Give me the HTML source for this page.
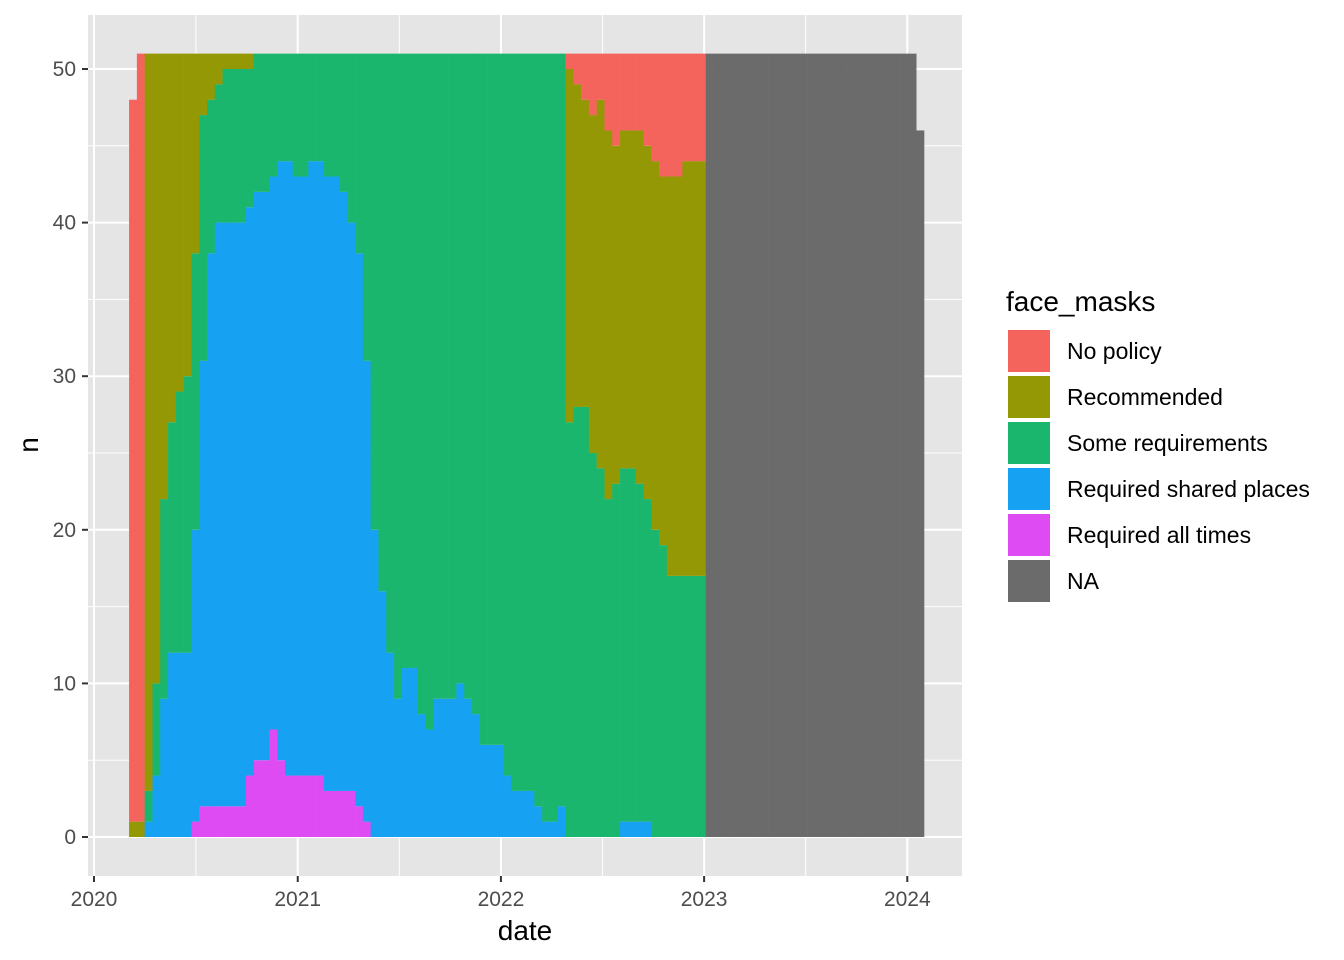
<!DOCTYPE html>
<html><head><meta charset="utf-8"><style>
html,body{margin:0;padding:0;background:#fff;}
svg{display:block;font-family:"Liberation Sans",Arial,sans-serif;}
</style></head><body>
<svg id="chart" width="1344" height="960" viewBox="0 0 1344 960">
<rect x="88" y="15" width="874" height="861" fill="#E5E5E5"/>
<g id="grid"></g>
<g id="bars"></g>
<g id="axes"></g>
<text x="525" y="940" font-size="28" text-anchor="middle" fill="#000">date</text>
<text transform="translate(38,445) rotate(-90)" font-size="28" text-anchor="middle" fill="#000">n</text>
<g id="legend">
<text x="1006" y="311" font-size="28" fill="#000">face_masks</text>
</g>
</svg>
<script>
const startDay = 63; // days since 2020-01-01 of first bar
const periodDays = 14;
const seriesNames = ["NA","Required all times","Required shared places","Some requirements","Recommended","No policy"];
const pink = [0,0,0,0,0,0,0,0,1,2,2,2,2,2,2,4,5,5,7,5,4,4,4,4,4,3,3,3,3,2,1,0,0,0,0,0,0,0,0,0,0,0,0,0,0,0,0,0,0,0,0,0,0,0,0,0,0,0,0,0,0,0,0,0,0,0,0,0,0,0,0,0,0,0,0,0,0,0,0,0,0,0,0,0,0,0,0,0,0,0,0,0,0,0,0,0,0,0,0,0,0,0];
const blue = [0,0,1,4,9,12,12,12,19,29,36,38,38,38,38,37,37,37,36,39,40,39,39,40,40,40,40,39,37,36,30,20,16,12,9,11,11,8,7,9,9,9,10,9,8,6,6,6,4,3,3,3,2,1,1,2,0,0,0,0,0,0,0,1,1,1,1,0,0,0,0,0,0,0,0,0,0,0,0,0,0,0,0,0,0,0,0,0,0,0,0,0,0,0,0,0,0,0,0,0,0,0];
const green = [0,0,2,6,13,15,17,18,18,16,10,9,10,10,10,9,9,9,8,7,7,8,8,7,7,8,8,9,11,13,20,31,35,39,42,40,40,43,44,42,42,42,41,42,43,45,45,45,47,48,48,48,49,50,50,49,27,28,28,25,24,22,23,23,23,22,21,20,19,17,17,17,17,17,0,0,0,0,0,0,0,0,0,0,0,0,0,0,0,0,0,0,0,0,0,0,0,0,0,0,0,0];
const olive = [1,1,48,41,29,24,22,21,13,4,3,2,1,1,1,1,0,0,0,0,0,0,0,0,0,0,0,0,0,0,0,0,0,0,0,0,0,0,0,0,0,0,0,0,0,0,0,0,0,0,0,0,0,0,0,0,23,21,20,22,24,24,22,22,22,23,23,24,24,26,26,27,27,27,0,0,0,0,0,0,0,0,0,0,0,0,0,0,0,0,0,0,0,0,0,0,0,0,0,0,0,0];
const red = [47,50,0,0,0,0,0,0,0,0,0,0,0,0,0,0,0,0,0,0,0,0,0,0,0,0,0,0,0,0,0,0,0,0,0,0,0,0,0,0,0,0,0,0,0,0,0,0,0,0,0,0,0,0,0,0,1,2,3,4,3,5,6,5,5,5,6,7,8,8,8,7,7,7,0,0,0,0,0,0,0,0,0,0,0,0,0,0,0,0,0,0,0,0,0,0,0,0,0,0,0,0];
const naVals = [0,0,0,0,0,0,0,0,0,0,0,0,0,0,0,0,0,0,0,0,0,0,0,0,0,0,0,0,0,0,0,0,0,0,0,0,0,0,0,0,0,0,0,0,0,0,0,0,0,0,0,0,0,0,0,0,0,0,0,0,0,0,0,0,0,0,0,0,0,0,0,0,0,0,51,51,51,51,51,51,51,51,51,51,51,51,51,51,51,51,51,51,51,51,51,51,51,51,51,51,51,46];
const yTicks = [0,10,20,30,40,50];
const xTickYears = [2020,2021,2022,2023,2024];

const NS = "http://www.w3.org/2000/svg";
function xScale(day){ return 94 + day * (813.3/1461); }
function yScale(v){ return 837 - v * 15.36; }
function yearDay(yr){ const d0=Date.UTC(2020,0,1); return (Date.UTC(yr,0,1)-d0)/86400000; }
function mk(tag, attrs, parent){ const e=document.createElementNS(NS,tag); for(const k in attrs) e.setAttribute(k,attrs[k]); parent.appendChild(e); return e; }

const grid=document.getElementById('grid');
for(let v=5; v<=50; v+=10){ const l=mk('line',{x1:88,x2:962,y1:yScale(v),y2:yScale(v),stroke:'#fff','stroke-width':1},grid);

 }
for(let i=0;i<xTickYears.length-1;i++){ const xm=xScale((yearDay(xTickYears[i])+yearDay(xTickYears[i+1]))/2);
const l=mk('line',{x1:xm,x2:xm,y1:15,y2:876,stroke:'#fff','stroke-width':1},grid);

 }
yTicks.forEach(v=>{ const l=mk('line',{x1:88,x2:962,y1:yScale(v),y2:yScale(v),stroke:'#fff','stroke-width':2},grid);

 });
xTickYears.forEach(yr=>{ const x=xScale(yearDay(yr)); const l=mk('line',{x1:x,x2:x,y1:15,y2:876,stroke:'#fff','stroke-width':2},grid);

 });

const colors={NA:'#6B6B6B',pink:'#DF4BF2',blue:'#16A1F2',green:'#1BB66E',olive:'#949804',red:'#F4645D'};
const stack=[['na',naVals,colors.NA],['pink',pink,colors.pink],['blue',blue,colors.blue],['green',green,colors.green],['olive',olive,colors.olive],['red',red,colors.red]];
const bars=document.getElementById('bars');
for(let i=0;i<red.length;i++){
  const d0=startDay+i*periodDays, x0=xScale(d0), x1=xScale(d0+periodDays);
  let cum=0;
  stack.forEach(([nm,arr,col])=>{
    const v=arr[i]; if(!v) return;
    const r=mk('rect',{x:x0,y:yScale(cum+v),width:x1-x0+0.3,height:yScale(cum)-yScale(cum+v),fill:col},bars);
    
    
    cum+=v;
  });
}

const axes=document.getElementById('axes');
yTicks.forEach(v=>{
  const t=mk('line',{x1:82,x2:88,y1:yScale(v),y2:yScale(v),stroke:'#333','stroke-width':2},axes);
  
  
  const tx=mk('text',{x:76,y:yScale(v)+7,'font-size':21,'text-anchor':'end',fill:'#4D4D4D'},axes);
  tx.textContent=v;
  
  
});
xTickYears.forEach(yr=>{
  const x=xScale(yearDay(yr));
  const t=mk('line',{x1:x,x2:x,y1:876,y2:882,stroke:'#333','stroke-width':2},axes);
  
  
  const tx=mk('text',{x:x,y:906,'font-size':21,'text-anchor':'middle',fill:'#4D4D4D'},axes);
  tx.textContent=yr;
  
  
});

const legend=document.getElementById('legend');
const legItems=[['No policy',colors.red],['Recommended',colors.olive],['Some requirements',colors.green],['Required shared places',colors.blue],['Required all times',colors.pink],['NA',colors.NA]];
legItems.forEach(([lab,col],k)=>{
  const y=330+k*46;
  const r=mk('rect',{x:1008,y:y,width:42,height:42,fill:col},legend);
  
  
  const t=mk('text',{x:1067,y:y+29,'font-size':23,fill:'#000'},legend);
  t.textContent=lab;
  
  
});
</script>
</body></html>
